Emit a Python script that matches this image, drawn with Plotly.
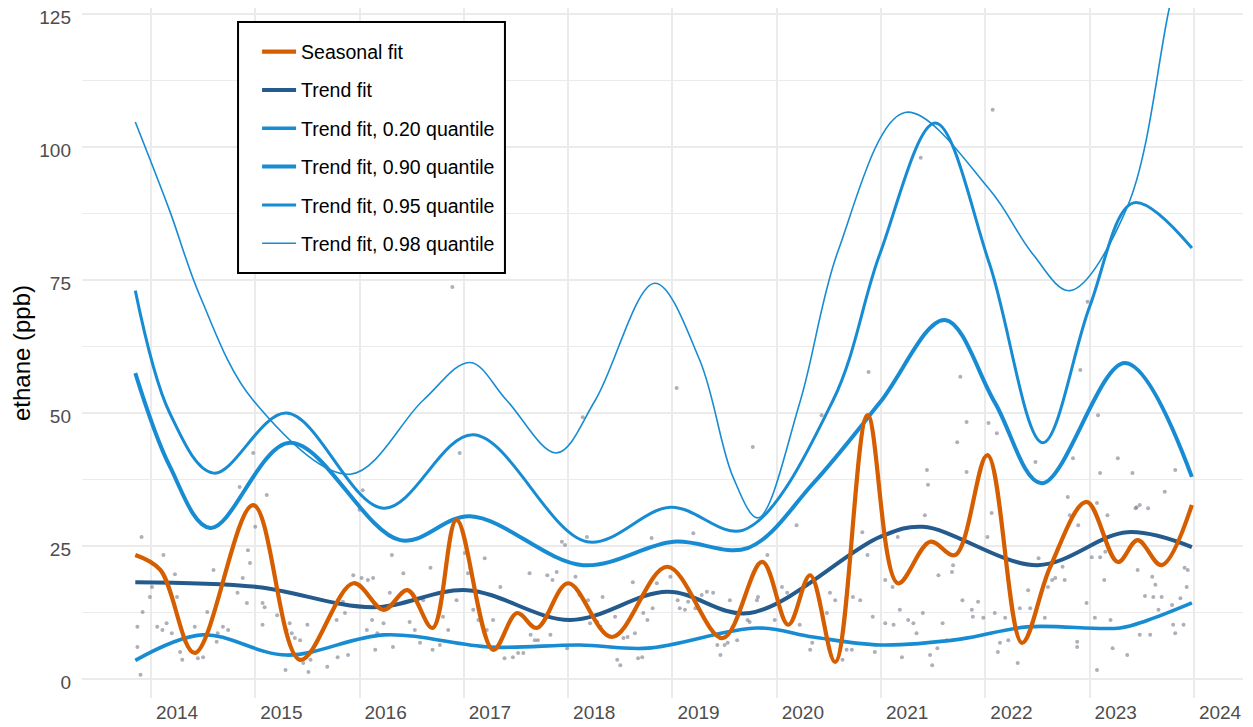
import plotly.graph_objects as go

# ---------------- data (decimal years, ppb) ----------------
SEASON_X = [2013.60, 2013.84, 2014.17, 2014.73, 2015.18, 2015.69, 2015.98, 2016.21, 2016.45, 2016.68,
            2017.03, 2017.26, 2017.45, 2017.75, 2018.17, 2018.70, 2019.23, 2019.61, 2019.86, 2020.07,
            2020.31, 2020.62, 2020.91, 2021.22, 2021.46, 2021.77, 2022.10, 2022.37, 2022.72, 2023.02,
            2023.21, 2023.44, 2023.73]
SEASON_Y = [23.3, 20.5, 4.9, 32.7, 3.6, 18.0, 13.0, 16.7, 9.6, 29.9,
            5.5, 12.4, 9.6, 18.0, 7.9, 21.1, 7.7, 22.0, 10.2, 19.5,
            3.2, 49.6, 18.0, 25.8, 23.3, 42.1, 6.8, 21.0, 33.3, 22.0,
            26.1, 21.4, 32.7]

TREND_X = [2013.60, 2014.77, 2015.88, 2016.78, 2017.77, 2018.70, 2019.49, 2020.74, 2021.15, 2022.25, 2023.11, 2023.73]
TREND_Y = [18.2, 17.3, 13.5, 16.7, 11.1, 16.4, 12.4, 26.7, 28.6, 21.4, 27.6, 24.8]

Q20_X = [2013.60, 2014.24, 2015.05, 2015.99, 2017.00, 2017.86, 2018.51, 2019.56, 2020.10, 2020.74,
         2021.51, 2022.15, 2023.04, 2023.30, 2023.73]
Q20_Y = [3.5, 8.3, 4.5, 8.3, 6.0, 6.4, 5.8, 9.6, 7.9, 6.4, 7.5, 9.8, 9.6, 11.0, 14.3]

Q90_X = [2013.60, 2013.93, 2014.32, 2015.08, 2016.14, 2016.81, 2017.89, 2018.76, 2019.47, 2020.10,
         2020.74, 2021.36, 2021.84, 2022.29, 2023.09, 2023.73]
Q90_Y = [57.5, 40.0, 28.4, 44.4, 26.1, 30.6, 21.4, 25.8, 24.6, 36.8,
         52.0, 67.5, 52.0, 36.8, 59.4, 38.0]

Q95_X = [2013.60, 2013.93, 2014.35, 2015.05, 2015.98, 2016.84, 2017.93, 2018.73, 2019.43, 2020.29,
         2020.74, 2021.27, 2021.79, 2022.30, 2022.75, 2023.17, 2023.73]
Q95_Y = [73.0, 50.0, 38.7, 50.0, 32.1, 45.9, 25.8, 32.3, 28.0, 52.4,
         80.0, 104.5, 78.0, 44.4, 70.0, 89.5, 81.0]

Q98_X = [2013.60, 2013.93, 2014.22, 2014.73, 2015.66, 2016.36, 2016.81, 2017.16, 2017.64, 2018.01,
         2018.58, 2019.01, 2019.33, 2019.57, 2019.97, 2020.34, 2020.98, 2021.79, 2022.20, 2022.56,
         2023.11, 2023.51, 2023.73]
Q98_Y = [104.7, 88.0, 72.0, 52.4, 38.5, 52.4, 59.5, 52.4, 42.5, 52.4,
         74.4, 60.0, 38.0, 30.3, 51.9, 80.6, 106.5, 92.0, 80.0, 73.0,
         88.7, 125.8, 146.0]

SAMPLE_YEAR = [
    2013.62, 2013.62, 2013.65, 2013.67, 2013.74, 2013.76, 2013.66, 2013.81, 2013.86, 2013.87,
    2013.90, 2013.95, 2013.98, 2014.00, 2014.03, 2014.05, 2014.08, 2014.17, 2014.20, 2014.25,
    2014.29, 2014.35, 2014.38, 2014.39, 2014.44, 2014.48, 2014.49, 2014.58, 2014.60, 2014.63,
    2014.67, 2014.68, 2014.70, 2014.73, 2014.75, 2014.82, 2014.82, 2014.84, 2014.86, 2014.96,
    2015.04, 2015.05, 2015.08, 2015.10, 2015.13, 2015.18, 2015.21, 2015.25, 2015.26, 2015.28,
    2015.44, 2015.53, 2015.54, 2015.59, 2015.61, 2015.64, 2015.69, 2015.75, 2015.77, 2015.78,
    2015.82, 2015.83, 2015.87, 2015.88, 2015.90, 2015.92, 2015.98, 2016.04, 2016.06, 2016.07,
    2016.17, 2016.23, 2016.28, 2016.33, 2016.36, 2016.43, 2016.45, 2016.52, 2016.55, 2016.60,
    2016.64, 2016.68, 2016.71, 2016.76, 2016.79, 2016.81, 2016.84, 2016.89, 2016.97, 2016.95,
    2017.03, 2017.10, 2017.14, 2017.22, 2017.27, 2017.32, 2017.38, 2017.39, 2017.43, 2017.46,
    2017.55, 2017.58, 2017.60, 2017.64, 2017.69, 2017.72, 2017.74, 2017.82, 2017.86, 2017.89,
    2017.93, 2017.94, 2017.96, 2018.03, 2018.06, 2018.08, 2018.20, 2018.22, 2018.25, 2018.28,
    2018.32, 2018.37, 2018.39, 2018.42, 2018.46, 2018.47, 2018.51, 2018.55, 2018.56, 2018.60,
    2018.73, 2018.79, 2018.80, 2018.82, 2018.87, 2018.90, 2018.95, 2018.97, 2019.03, 2019.08,
    2019.14, 2019.18, 2019.21, 2019.25, 2019.28, 2019.30, 2019.37, 2019.47, 2019.49, 2019.52,
    2019.56, 2019.57, 2019.66, 2019.73, 2019.80, 2019.85, 2019.94, 2019.97, 2020.07, 2020.09,
    2020.16, 2020.18, 2020.23, 2020.26, 2020.31, 2020.38, 2020.42, 2020.47, 2020.48, 2020.55,
    2020.57, 2020.62, 2020.63, 2020.67, 2020.69, 2020.79, 2020.79, 2020.86, 2020.87, 2020.91,
    2020.93, 2020.95, 2021.01, 2021.06, 2021.09, 2021.13, 2021.15, 2021.17, 2021.19, 2021.20,
    2021.22, 2021.24, 2021.29, 2021.30, 2021.34, 2021.38, 2021.43, 2021.44, 2021.48, 2021.51,
    2021.53, 2021.57, 2021.57, 2021.62, 2021.63, 2021.68, 2021.73, 2021.77, 2021.78, 2021.81,
    2021.82, 2021.84, 2021.86, 2021.87, 2021.89, 2021.94, 2021.97, 2022.06, 2022.08, 2022.16,
    2022.18, 2022.23, 2022.26, 2022.32, 2022.35, 2022.39, 2022.42, 2022.49, 2022.51, 2022.54,
    2022.56, 2022.59, 2022.63, 2022.63, 2022.64, 2022.66, 2022.72, 2022.73, 2022.77, 2022.80,
    2022.82, 2022.82, 2022.83, 2022.85, 2022.85, 2022.89, 2022.90, 2022.92, 2022.95, 2022.97,
    2023.02, 2023.11, 2023.16, 2023.19, 2023.20, 2023.21, 2023.23, 2023.23, 2023.28, 2023.31,
    2023.33, 2023.35, 2023.36, 2023.38, 2023.41, 2023.44, 2023.47, 2023.54, 2023.55, 2023.57,
    2023.57, 2023.62, 2023.65, 2023.66, 2023.68, 2023.69]
SAMPLE_PPB = [
    9.8, 6.0, 0.8, 12.6, 15.4, 17.3, 26.7, 9.8, 9.2, 23.3,
    10.5, 8.6, 19.7, 15.4, 5.1, 3.6, 7.0, 9.8, 3.9, 4.1,
    12.6, 20.5, 7.0, 8.6, 9.8, 17.7, 9.2, 16.2, 36.1, 19.0,
    14.3, 24.2, 21.8, 42.5, 28.6, 14.3, 10.2, 13.5, 34.6, 12.0,
    1.7, 9.2, 10.5, 8.6, 7.7, 7.3, 3.0, 10.2, 1.3, 3.6,
    2.3, 11.1, 4.1, 14.5, 12.4, 4.5, 19.5, 31.8, 19.0, 35.5,
    9.2, 18.6, 11.1, 19.0, 5.5, 8.6, 10.5, 16.2, 23.3, 6.0,
    19.9, 10.7, 9.2, 6.8, 14.8, 20.9, 5.5, 6.4, 11.7, 9.2,
    73.7, 14.8, 42.5, 23.7, 19.9, 20.9, 13.0, 11.1, 9.2, 22.7,
    11.1, 17.3, 3.9, 4.1, 4.9, 4.9, 19.9, 8.3, 7.3, 7.3,
    19.5, 8.3, 18.6, 20.1, 25.8, 25.2, 5.8, 19.2, 15.8, 49.2,
    26.7, 14.8, 10.5, 10.7, 9.8, 15.4, 11.7, 3.6, 2.6, 7.7,
    7.9, 18.2, 8.6, 3.9, 4.1, 12.4, 11.1, 26.5, 13.3, 18.0,
    19.2, 54.7, 14.8, 13.3, 13.0, 14.5, 27.4, 13.3, 15.8, 16.4,
    16.2, 6.4, 4.5, 6.4, 6.8, 14.8, 7.3, 11.1, 10.7, 43.6,
    14.8, 15.4, 23.3, 11.1, 17.3, 16.2, 28.9, 10.2, 5.5, 6.8,
    14.8, 49.6, 12.4, 16.2, 14.8, 3.6, 5.5, 5.5, 15.4, 14.8,
    27.6, 23.3, 57.7, 11.7, 5.1, 18.6, 10.5, 17.3, 10.2, 26.7,
    13.0, 4.1, 11.1, 10.5, 8.6, 98.0, 12.4, 30.8, 39.3, 36.5,
    4.5, 2.6, 5.8, 19.5, 10.5, 7.3, 20.1, 21.4, 44.5, 56.8,
    14.8, 48.3, 38.9, 13.0, 11.7, 14.5, 11.5, 26.7, 48.1, 31.2,
    107.0, 12.4, 46.2, 5.1, 6.8, 11.5, 7.3, 3.0, 13.3, 16.7,
    13.3, 40.8, 22.7, 11.5, 17.3, 18.6, 19.0, 21.1, 18.6, 34.2,
    30.8, 41.5, 7.0, 6.0, 28.9, 58.1, 14.3, 70.9, 22.9, 11.5,
    33.1, 1.7, 49.6, 22.9, 38.7, 18.6, 23.9, 30.8, 11.1, 5.8,
    41.5, 4.5, 38.7, 32.1, 32.3, 20.5, 32.7, 8.3, 15.6, 32.1,
    8.3, 19.2, 15.4, 17.7, 13.0, 15.4, 35.2, 13.9, 10.2, 39.3,
    8.6, 15.2, 10.2, 20.9, 17.3, 20.5]

YEAR_TICKS = [2014, 2015, 2016, 2017, 2018, 2019, 2020, 2021, 2022, 2023, 2024]
YEAR_GRID = [2013.75, 2014.75, 2015.75, 2016.75, 2017.75, 2018.75, 2019.75, 2020.75, 2021.75, 2022.75, 2023.75]
PPB_TICKS = [0, 25, 50, 75, 100, 125]
PPB_MINOR = [12.5, 37.5, 62.5, 87.5, 112.5]

# ---------------- styles ----------------
ORANGE = "#D55E00"
DARK = "#245A8C"
BLUE = "#188CD2"
FONT = "Liberation Sans, Arial, Helvetica, sans-serif"
GRID = "#EBEBEB"

fig = go.Figure()
fig.add_trace(go.Scatter(x=SAMPLE_YEAR, y=SAMPLE_PPB, mode="markers",
                         marker=dict(size=4, color="rgba(120,122,138,0.6)"),
                         showlegend=False, hoverinfo="skip"))

lines = [
    ("Trend fit, 0.98 quantile", Q98_X, Q98_Y, BLUE, 1.6, 6),
    ("Trend fit, 0.95 quantile", Q95_X, Q95_Y, BLUE, 3.0, 5),
    ("Trend fit, 0.90 quantile", Q90_X, Q90_Y, BLUE, 4.0, 4),
    ("Trend fit, 0.20 quantile", Q20_X, Q20_Y, BLUE, 3.6, 3),
    ("Trend fit", TREND_X, TREND_Y, DARK, 4.0, 2),
    ("Seasonal fit", SEASON_X, SEASON_Y, ORANGE, 4.2, 1),
]
for name, xs, ys, col, w, rank in lines:
    fig.add_trace(go.Scatter(x=xs, y=ys, mode="lines", name=name,
                             line=dict(color=col, width=w, shape="spline", smoothing=1.0),
                             legendrank=rank, legendgroup=name))

# legend frame (white box with black border) behind the legend entries
fig.add_shape(type="rect", xref="paper", yref="paper",
              x0=0.1344, x1=0.3643, y0=0.6159, y1=0.9797,
              line=dict(color="black", width=2), fillcolor="white", layer="above")

# the page body adds an 8px margin, so the figure is 8px smaller than the window
fig.update_layout(
    width=1245, height=719,
    margin=dict(l=74, r=10, t=0, b=29, autoexpand=False),
    paper_bgcolor="white", plot_bgcolor="white",
    font=dict(family=FONT, size=19, color="#4D4D4D"),
    showlegend=True,
    legend=dict(x=0.1508, y=0.9647, xanchor="left", yanchor="top",
                bgcolor="rgba(0,0,0,0)", borderwidth=0,
                font=dict(family=FONT, size=19.5, color="black"),
                traceorder="grouped", tracegroupgap=10, itemwidth=34),
)
fig.update_xaxes(range=[2013.089, 2024.22], tickmode="array", tickvals=YEAR_TICKS,
                 ticktext=[str(v) for v in YEAR_TICKS], showgrid=False, zeroline=False,
                 showline=False, ticks="", ticklabelstandoff=1, automargin=False,
                 ticklabeloverflow="allow",
                 minor=dict(tickmode="array", tickvals=YEAR_GRID, showgrid=True,
                            gridcolor=GRID, gridwidth=1.6, ticks=""))
fig.update_yaxes(range=[-3.57, 126.13], tickmode="array", tickvals=PPB_TICKS,
                 showgrid=True, gridcolor=GRID, gridwidth=1.6, zeroline=False,
                 showline=False, ticks="", ticklabelstandoff=10, automargin=False,
                 ticklabeloverflow="allow", ticklabelshift=3,
                 title=dict(text="ethane (ppb)", font=dict(family=FONT, size=24, color="black"), standoff=2),
                 minor=dict(tickmode="array", tickvals=PPB_MINOR, showgrid=True,
                            gridcolor=GRID, gridwidth=1.2, ticks=""))

fig.write_html("out.html")
